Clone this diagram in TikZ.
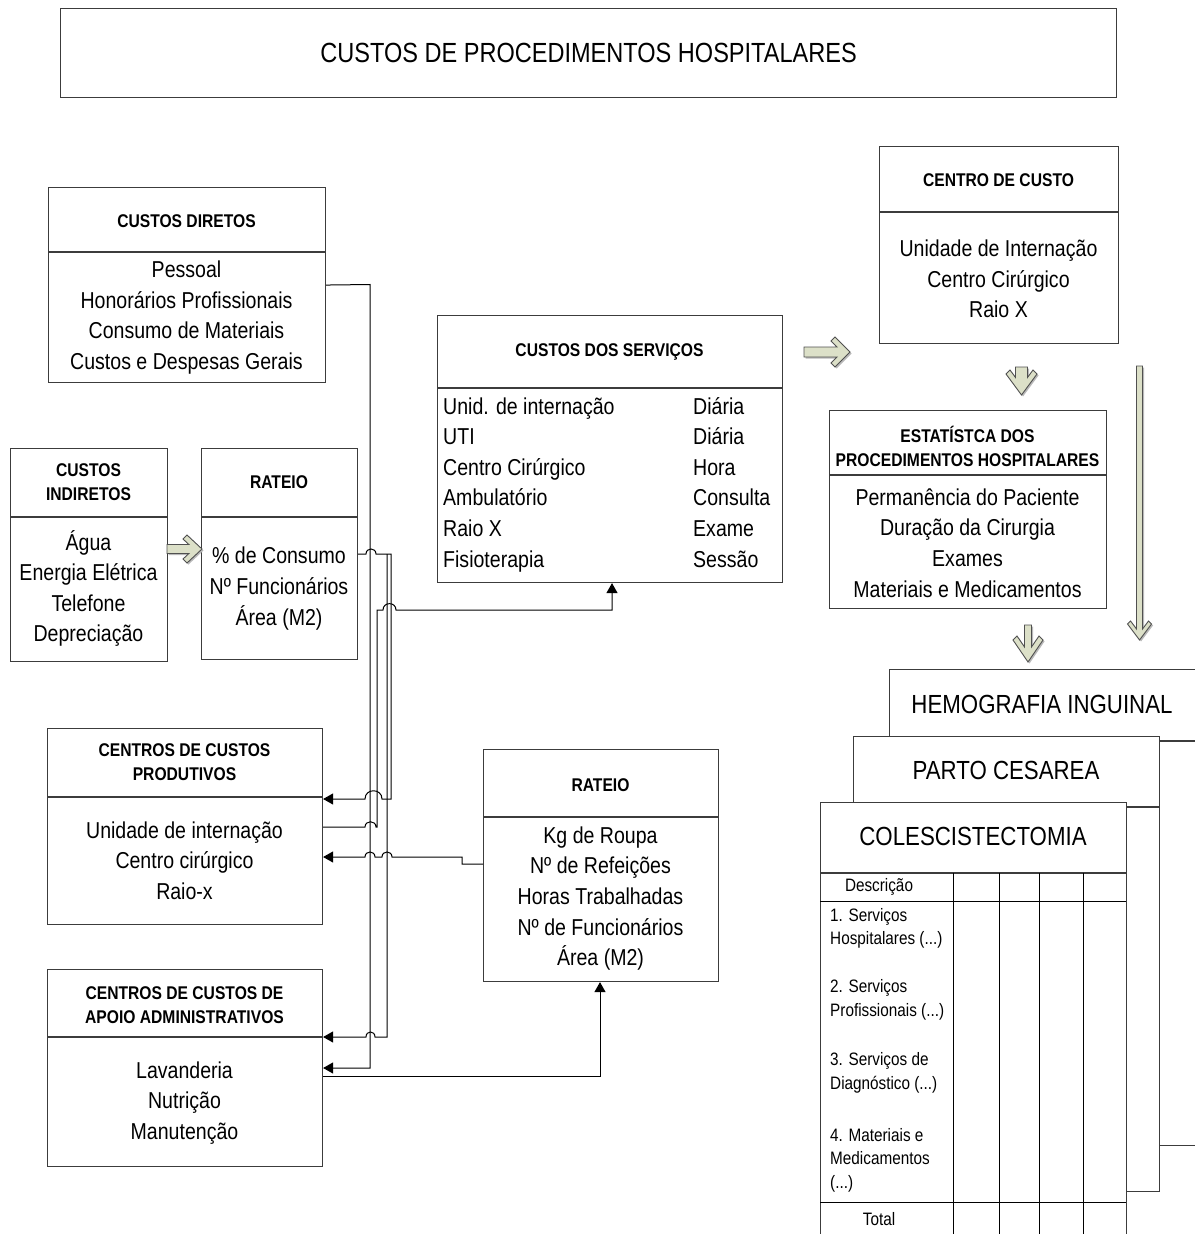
\documentclass[tikz,border=0pt]{standalone}
\usepackage{fontspec}
\setmainfont{Liberation Sans}[FakeStretch=0.85]
\usetikzlibrary{arrows.meta}
\definecolor{boxc}{HTML}{3C3C3C}
\definecolor{afill}{HTML}{DCE0C8}
\definecolor{aline}{HTML}{505050}
\tikzset{
 bx/.style={draw=boxc, line width=1.1pt, fill=white, inner sep=0pt, anchor=north west},
 dv/.style={draw=boxc, line width=1.1pt},
 bodyt/.style={font=\fontsize{23}{30.6}\selectfont, align=center, inner sep=0pt},
 hdrt/.style={font=\fontsize{18.4}{23.5}\selectfont\bfseries, align=center, inner sep=0pt},
 tabt/.style={font=\fontsize{18}{23.6}\selectfont, align=left, inner sep=0pt, anchor=west},
 cardt/.style={font=\fontsize{26.2}{30}\selectfont, inner sep=0pt},
 conn/.style={draw=black, line width=1pt},
 arr/.style={conn, -{Triangle[length=10pt,width=11pt]}},
 tline/.style={draw=black, line width=0.9pt},
 pics/barrow/.style n args={5}{code={
   \pgfmathsetmacro\xj{#1-#4-#5+#4*(#3-#5-#2)/#3}
   \pgfmathsetmacro\xo{#1-#4}
   \pgfmathsetmacro\xc{#1-#4-#5}
   \pgfmathsetmacro\yc{#3-#5}
   \fill[gray!55, transform canvas={xshift=1.5pt,yshift=-1.5pt}]
     (0,-#2) -- (\xj,-#2) -- (\xc,-\yc) -- (\xo,-#3) -- (#1,0) -- (\xo,#3) -- (\xc,\yc) -- (\xj,#2) -- (0,#2) -- cycle;
   \filldraw[fill=afill, draw=aline, line width=0.9pt]
     (0,-#2) -- (\xj,-#2) -- (\xc,-\yc) -- (\xo,-#3) -- (#1,0) -- (\xo,#3) -- (\xc,\yc) -- (\xj,#2) -- (0,#2) -- cycle;
 }}
}
\begin{document}
\begin{tikzpicture}[x=1pt,y=-1pt]
\useasboundingbox[fill=white] (0,0) rectangle (1194,1234);

% title
\node[bx, minimum width=1056, minimum height=89, font=\fontsize{27.7}{30}\selectfont] (title) at (60,8) {CUSTOS DE PROCEDIMENTOS HOSPITALARES};

% CUSTOS DIRETOS
\node[bx, minimum width=277, minimum height=195] (diretos) at (48,187) {};
\draw[dv] (48,252) -- (325,252);
\node[hdrt] (diretosH) at (186.5,221) {CUSTOS DIRETOS};
\node[bodyt] (diretosB) at (186.5,317.5) {Pessoal\\Honorários Profissionais\\Consumo de Materiais\\Custos e Despesas Gerais};

% CUSTOS INDIRETOS
\node[bx, minimum width=157, minimum height=213] (indiretos) at (10,448) {};
\draw[dv] (10,517) -- (167,517);
\node[hdrt] (indiretosH) at (88.5,482) {CUSTOS\\INDIRETOS};
\node[bodyt] (indiretosB) at (88.5,588.5) {Água\\Energia Elétrica\\Telefone\\Depreciação};

% RATEIO 1
\node[bx, minimum width=156, minimum height=211] (rateioA) at (201,448) {};
\draw[dv] (201,517) -- (357,517);
\node[hdrt] (rateioAH) at (279,482) {RATEIO};
\node[bodyt] (rateioAB) at (279,588.5) {\% de Consumo\\Nº Funcionários\\Área (M2)};

% CUSTOS DOS SERVICOS
\node[bx, minimum width=345, minimum height=267] (serv) at (437,315) {};
\draw[dv] (437,388) -- (782,388);
\node[hdrt] (servH) at (609.5,352) {CUSTOS DOS SERVIÇOS};
\node[bodyt, align=left, anchor=west] (servL) at (443,484.5) {\strut Unid. de internação\\UTI\\Centro Cirúrgico\\Ambulatório\\Raio X\\Fisioterapia\strut};
\node[bodyt, align=left, anchor=west] (servR) at (693,484.5) {\strut Diária\\Diária\\Hora\\Consulta\\Exame\\Sessão\strut};

% CENTRO DE CUSTO
\node[bx, minimum width=239, minimum height=197] (centro) at (879,146) {};
\draw[dv] (879,212) -- (1118,212);
\node[hdrt] (centroH) at (998.5,180) {CENTRO DE CUSTO};
\node[bodyt] (centroB) at (998.5,279) {Unidade de Internação\\Centro Cirúrgico\\Raio X};

% ESTATISTICA
\node[bx, minimum width=277, minimum height=198] (estat) at (829,410) {};
\draw[dv] (829,475) -- (1106,475);
\node[hdrt] (estatH) at (967.5,446.5) {ESTATÍSTCA DOS\\PROCEDIMENTOS HOSPITALARES};
\node[bodyt] (estatB) at (967.5,543) {Permanência do Paciente\\Duração da Cirurgia\\Exames\\Materiais e Medicamentos};

% PRODUTIVOS
\node[bx, minimum width=275, minimum height=196] (prod) at (47,728) {};
\draw[dv] (47,797) -- (322,797);
\node[hdrt] (prodH) at (184.5,762) {CENTROS DE CUSTOS\\PRODUTIVOS};
\node[bodyt] (prodB) at (184.5,860.5) {Unidade de internação\\Centro cirúrgico\\Raio-x};

% RATEIO 2
\node[bx, minimum width=235, minimum height=232] (rateioB) at (483,749) {};
\draw[dv] (483,817) -- (718,817);
\node[hdrt] (rateioBH) at (600.5,785) {RATEIO};
\node[bodyt] (rateioBB) at (600.5,898.5) {Kg de Roupa\\Nº de Refeições\\Horas Trabalhadas\\Nº de Funcionários\\Área (M2)};

% APOIO
\node[bx, minimum width=275, minimum height=197] (apoio) at (47,969) {};
\draw[dv] (47,1037) -- (322,1037);
\node[hdrt] (apoioH) at (184.5,1005) {CENTROS DE CUSTOS DE\\APOIO ADMINISTRATIVOS};
\node[bodyt] (apoioB) at (184.5,1103) {Lavanderia\\Nutrição\\Manutenção};

% block arrows
\pic (ba1) at (167,549) {barrow={35}{4.5}{14}{15}{4}};
\pic (ba2) at (804,352) {barrow={46}{5}{15}{15}{4}};
\pic[rotate=-90] (ba3) at (1021.5,367) {barrow={28}{6}{15.5}{21}{4}};
\pic[rotate=-90] (ba4) at (1028,625) {barrow={37}{3.5}{15}{22}{4}};
\pic[rotate=-90] (ba5) at (1139.5,366) {barrow={274}{3}{12}{16}{3}};

% connectors
\draw[arr] (diretos.east) -- (370,284.5) -- (370,1068) -- (apoio.east |- 0,1068);
\draw[arr] (rateioA.east |- 0,554) -- (366,554) .. controls (366,547.3) and (376,547.3) .. (376,554) -- (391,554) -- (391,799) -- (382,799) .. controls (382,788) and (365,788) .. (365,799) -- (prod.east |- 0,799);
\draw[arr] (387,554) -- (387,1037) -- (375,1037) .. controls (375,1030.3) and (366,1030.3) .. (366,1037) -- (apoio.east |- 0,1037);
\draw[arr] (prod.east |- 0,827) -- (365,827) .. controls (365,820) and (376,820) .. (376,827) -- (377,827) -- (377,610) -- (383,610) .. controls (383,601.5) and (396,601.5) .. (396,610) -- (612,610) -- (serv.south -| 612,0);
\draw[arr] (rateioB.west |- 0,864) -- (462,864) -- (462,857) -- (392,857) .. controls (392,850.3) and (382,850.3) .. (382,857) -- (375,857) .. controls (375,850.3) and (365,850.3) .. (365,857) -- (prod.east |- 0,857);
\draw[arr] (apoio.east |- 0,1076) -- (600,1076) -- (rateioB.south -| 600,0);

% cards
\node[bx, minimum width=312, minimum height=476] (card1) at (889,669) {};
\draw[dv] (889,741) -- (1201,741);
\node[cardt] (card1T) at (1042,704) {HEMOGRAFIA INGUINAL};
\node[bx, minimum width=306, minimum height=455] (card2) at (853,736) {};
\draw[dv] (853,807) -- (1159,807);
\node[cardt] (card2T) at (1006,770) {PARTO CESAREA};
\node[bx, minimum width=306, minimum height=446] (card3) at (820,802) {};
\draw[dv] (820,873) -- (1126,873);
\node[cardt] (card3T) at (973,836) {COLESCISTECTOMIA};
\draw[tline] (820,901) -- (1126,901);
\draw[tline] (820,1202) -- (1126,1202);
\foreach \cx in {953,999,1039,1083} \draw[tline] (\cx,873) -- (\cx,1240);
\node[tabt, anchor=center] (descr) at (879,886.5) {Descrição};
\node[tabt] (row1) at (830,928.5) {1. Serviços\\Hospitalares (...)};
\node[tabt] (row2) at (830,1000) {2. Serviços\\Profissionais (...)};
\node[tabt] (row3) at (830,1073) {3. Serviços de\\Diagnóstico (...)};
\node[tabt] (row4) at (830,1160) {4. Materiais e\\Medicamentos\\(...)};
\node[tabt, anchor=center] (total) at (879,1219) {Total};
\end{tikzpicture}
\end{document}
